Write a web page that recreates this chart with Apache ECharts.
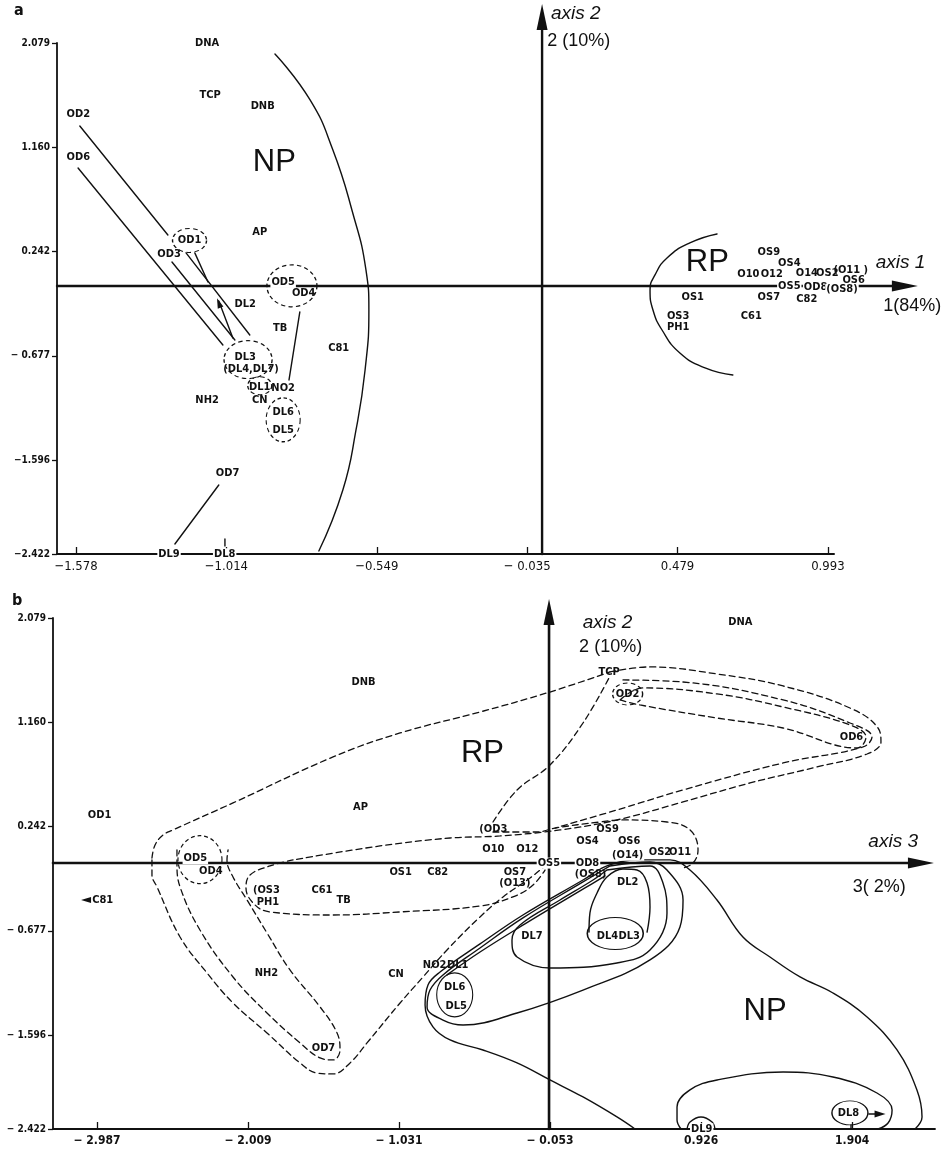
<!DOCTYPE html>
<html>
<head>
<meta charset="utf-8">
<script src="https://cdn.jsdelivr.net/npm/echarts@6/dist/echarts.min.js"></script>
<style>
  html, body { margin: 0; background: #fff; }
  #chart { width: 947px; height: 1155px; }
</style>
</head>
<body>
<div id="chart"></div>
<script>
// ---------- axes (tick positions and printed tick labels) ----------
var tickY = [2.079, 1.160, 0.242, -0.677, -1.596, -2.422];
var aTickYLabels = ['2.079', '1.160', '0.242', '\u2212 0.677', '\u22121.596', '\u22122.422'];
var bTickYLabels = ['2.079', '1.160', '0.242', '\u2212 0.677', '\u2212 1.596', '\u2212 2.422'];
var aTickX = [-1.578, -1.064, -0.550, -0.036, 0.478, 0.992];
var aTickXLabels = ['\u22121.578', '\u22121.014', '\u22120.549', '\u2212 0.035', '0.479', '0.993'];
var bTickX = [-2.987, -2.009, -1.031, -0.053, 0.926, 1.904];
var bTickXLabels = ['\u2212 2.987', '\u2212 2.009', '\u2212 1.031', '\u2212 0.053', '0.926', '1.904'];

// ---------- panel a : axis 1 x axis 2 ----------
var aLabels = [
  ['DNA', -1.13, 2.08], ['TCP', -1.12, 1.62], ['DNB', -0.94, 1.52], ['OD2', -1.57, 1.45],
  ['OD6', -1.57, 1.07], ['AP', -0.95, 0.41], ['OD1', -1.19, 0.34], ['OD3', -1.26, 0.22],
  ['OD5', -0.87, -0.03], ['OD4', -0.80, -0.12], ['DL2', -1.00, -0.22], ['TB', -0.88, -0.43],
  ['C81', -0.68, -0.61], ['DL3', -1.00, -0.69], ['(DL4,DL7)', -0.98, -0.79], ['DL1', -0.95, -0.95],
  ['NO2', -0.87, -0.96], ['CN', -0.95, -1.07], ['NH2', -1.13, -1.07], ['DL6', -0.87, -1.17],
  ['DL5', -0.87, -1.33], ['OD7', -1.06, -1.71], ['DL9', -1.26, -2.42], ['DL8', -1.07, -2.42],
  ['OS9', 0.79, 0.24], ['OS4', 0.86, 0.14], ['O10', 0.72, 0.04], ['O12', 0.80, 0.04],
  ['O14', 0.92, 0.05], ['OS2', 0.99, 0.05], ['(O11 )', 1.07, 0.08], ['OS6', 1.08, -0.01],
  ['OS5', 0.86, -0.06], ['OD8', 0.95, -0.07], ['(OS8)', 1.04, -0.09], ['OS1', 0.53, -0.16],
  ['OS7', 0.79, -0.16], ['C82', 0.92, -0.18], ['OS3', 0.48, -0.33], ['PH1', 0.48, -0.42],
  ['C61', 0.73, -0.33]
];
var aGroups = [['NP', -0.90, 1.03], ['RP', 0.58, 0.15]];
var aAxisNames = [['axis 1', 1.24, 0.14], ['axis 2', 0.13, 2.34]];
var aAxisShares = [['1(84%)', 1.28, -0.24], ['2 (10%)', 0.14, 2.10]];
var aRings = [[-1.19, 0.34], [-0.84, -0.06], [-0.99, -0.71], [-0.95, -0.94], [-0.87, -1.24]];
var aRingSize = [[34, 24], [50, 42], [48, 38], [24, 18], [34, 44]];

var aNPArc = [[-0.898, 1.982], [-0.778, 1.577], [-0.700, 1.137], [-0.635, 0.608], [-0.587, 0.080],
  [-0.577, -0.273], [-0.590, -0.801], [-0.621, -1.329], [-0.666, -1.858], [-0.748, -2.395]];
var aRPArc = [[0.613, 0.397], [0.520, 0.318], [0.442, 0.186], [0.401, 0.036], [0.384, -0.096],
  [0.394, -0.273], [0.425, -0.449], [0.486, -0.651], [0.572, -0.783], [0.667, -0.845]];
var aLinks = [
  [[-1.565, 1.348], [-1.264, 0.388]],
  [[-1.571, 0.978], [-1.076, -0.581]],
  [[-1.250, 0.150], [-1.035, -0.537]],
  [[-1.202, 0.230], [-0.984, -0.493]],
  [[-1.172, 0.230], [-1.127, -0.026]],
  [[-1.042, -0.519], [-1.090, -0.193]],
  [[-0.813, -0.290], [-0.850, -0.889]],
  [[-1.090, -1.814], [-1.240, -2.334]],
  [[-1.069, -2.290], [-1.069, -2.351]]
];
var aFrame = [
  [[-1.643, -2.422], [-1.643, 2.079]],
  [[-1.643, -2.422], [1.013, -2.422]]
];
var aAxes = [
  [[-1.643, -0.061], [1.255, -0.061]],
  [[0.015, -2.422], [0.015, 2.308]]
];
var aArrows = [[1.255, -0.061], [0.015, 2.308], [-1.090, -0.211]];
var aArrowTurn = [-90, 0, 21];

// ---------- panel b : axis 3 x axis 2 ----------
var bLabels = [
  ['DNB', -1.26, 1.51], ['OD1', -2.97, 0.34], ['AP', -1.28, 0.41], ['DNA', 1.18, 2.04],
  ['TCP', 0.33, 1.60], ['OD2', 0.45, 1.41], ['OD6', 1.90, 1.03], ['(OD3', -0.42, 0.22],
  ['OS9', 0.32, 0.22], ['O10', -0.42, 0.04], ['O12', -0.20, 0.04], ['OS4', 0.19, 0.11],
  ['OS6', 0.46, 0.11], ['(O14)', 0.45, -0.01], ['OS2', 0.66, 0.02], ['O11', 0.79, 0.02],
  ['OS5', -0.06, -0.08], ['OD8', 0.19, -0.08], ['(OS8)', 0.21, -0.18], ['OS7', -0.28, -0.16],
  ['(O13)', -0.28, -0.26], ['DL2', 0.45, -0.25], ['OD5', -2.35, -0.04], ['OD4', -2.25, -0.15],
  ['OS1', -1.02, -0.16], ['C82', -0.78, -0.16], ['(OS3', -1.89, -0.32], ['PH1', -1.88, -0.42],
  ['C61', -1.53, -0.32], ['TB', -1.39, -0.41], ['C81', -2.95, -0.41], ['NH2', -1.89, -1.05],
  ['CN', -1.05, -1.06], ['NO2', -0.80, -0.98], ['DL1', -0.65, -0.98], ['DL6', -0.67, -1.17],
  ['DL5', -0.66, -1.34], ['OD7', -1.52, -1.71], ['DL7', -0.17, -0.72], ['DL4', 0.32, -0.72],
  ['DL3', 0.46, -0.72], ['DL8', 1.88, -2.28], ['DL9', 0.93, -2.42]
];
var bGroups = [['NP', 1.34, -1.39], ['RP', -0.49, 0.89]];
var bAxisNames = [['axis 3', 2.17, 0.11], ['axis 2', 0.32, 2.04]];
var bAxisShares = [['3( 2%)', 2.08, -0.29], ['2 (10%)', 0.34, 1.82]];
var bDashRings = [[0.45, 1.41], [-2.32, -0.05]];
var bDashRingSize = [[30, 22], [44, 48]];
var bRings = [[-0.67, -1.24], [0.37, -0.70], [1.89, -2.28]];
var bRingSize = [[36, 44], [56, 32], [36, 24]];

// dashed outlines (RP groups)
var bRPTop = [[-2.631, -0.035], [-2.611, 0.080], [-2.559, 0.168], [-2.495, 0.212], [-2.106, 0.450],
  [-1.458, 0.855], [-1.024, 1.066], [-0.506, 1.251], [-0.053, 1.427], [0.336, 1.604]];
var bRPOuter = [[0.336, 1.604], [0.595, 1.648], [1.029, 1.586], [1.457, 1.480], [1.890, 1.286],
  [2.072, 1.110], [2.091, 0.987], [2.001, 0.881], [1.677, 0.767], [1.243, 0.626], [0.809, 0.459],
  [0.381, 0.300], [0.012, 0.212], [-0.377, 0.159], [-0.700, 0.141], [-1.154, 0.071], [-1.717, -0.052]];
var bRPMiddle = [[0.420, 1.533], [0.809, 1.515], [1.457, 1.357], [1.890, 1.154], [2.033, 1.031],
  [1.975, 0.943], [1.457, 0.802], [0.809, 0.564], [0.381, 0.388], [-0.020, 0.229]];
var bOD2OD6 = [[0.401, 1.357], [0.550, 1.463], [1.029, 1.410], [1.457, 1.295], [1.890, 1.137],
  [1.994, 1.031], [1.936, 0.934], [1.457, 1.110], [1.029, 1.198], [0.530, 1.313], [0.401, 1.357]];
var bOD3TCP = [[-0.422, 0.282], [-0.266, 0.564], [-0.053, 0.784], [0.161, 1.154], [0.336, 1.568]];
var bOS9Loop = [[-0.422, 0.194], [-0.137, 0.194], [-0.020, 0.229], [0.271, 0.282], [0.420, 0.300],
  [0.705, 0.282], [0.854, 0.212], [0.906, 0.036], [0.874, -0.079], [0.809, -0.123]];
var bOS3Loop = [[-1.717, -0.052], [-1.866, -0.105], [-1.996, -0.185], [-2.022, -0.299], [-1.963, -0.449],
  [-1.866, -0.510], [-1.458, -0.537], [-1.024, -0.510], [-0.506, -0.458], [-0.279, -0.370],
  [-0.163, -0.273], [-0.085, -0.141]];
var bOD7Outer = [[-2.631, -0.052], [-2.631, -0.185], [-2.598, -0.290], [-2.449, -0.731], [-2.274, -1.048],
  [-2.106, -1.312], [-1.886, -1.576], [-1.672, -1.840], [-1.562, -1.929], [-1.458, -1.937],
  [-1.348, -1.840], [-1.238, -1.664], [-1.024, -1.312], [-0.875, -1.083], [-0.720, -0.845],
  [-0.506, -0.554], [-0.357, -0.378], [-0.182, -0.211], [-0.085, -0.105]];
var bOD7Inner = [[-2.469, 0.036], [-2.469, -0.079], [-2.449, -0.290], [-2.320, -0.669], [-2.106, -1.083],
  [-1.886, -1.400], [-1.672, -1.664], [-1.542, -1.796], [-1.458, -1.814], [-1.413, -1.726],
  [-1.432, -1.576], [-1.542, -1.347], [-1.737, -1.021], [-1.886, -0.695], [-2.015, -0.405],
  [-2.106, -0.202], [-2.145, -0.052], [-2.138, 0.036]];

// solid outlines (NP groups)
var bDL2Loop = [[0.200, -0.687], [0.206, -0.519], [0.252, -0.343], [0.316, -0.202], [0.420, -0.132],
  [0.511, -0.141], [0.576, -0.255], [0.595, -0.466], [0.576, -0.687]];
var bDL7Loop = [[0.316, -0.141], [0.595, -0.105], [0.679, -0.255], [0.705, -0.519], [0.595, -0.845],
  [0.381, -0.960], [-0.053, -1.004], [-0.266, -0.907], [-0.299, -0.757], [-0.247, -0.625],
  [0.012, -0.405], [0.226, -0.229], [0.316, -0.141]];
var bDL1Loop = [[0.336, -0.105], [0.595, -0.070], [0.705, -0.141], [0.809, -0.405], [0.789, -0.643],
  [0.595, -0.933], [0.161, -1.198], [-0.266, -1.400], [-0.616, -1.506], [-0.746, -1.462],
  [-0.849, -1.347], [-0.830, -1.198], [-0.746, -1.065], [-0.506, -0.828], [-0.228, -0.563],
  [0.161, -0.246], [0.336, -0.105]];
var bDL1Stem = [[-0.720, -1.065], [-0.506, -0.863], [-0.215, -0.616], [0.174, -0.299], [0.304, -0.193]];
var bNPLoop = [[0.498, -2.422], [0.381, -2.316], [0.161, -2.140], [-0.053, -1.990], [-0.266, -1.840],
  [-0.487, -1.726], [-0.700, -1.638], [-0.811, -1.523], [-0.862, -1.330], [-0.843, -1.153],
  [-0.765, -1.039], [-0.506, -0.792], [-0.228, -0.537], [0.161, -0.229], [0.316, -0.105],
  [0.530, -0.052], [0.725, -0.052], [0.854, -0.141], [1.029, -0.405], [1.197, -0.731],
  [1.372, -0.907], [1.567, -1.083], [1.780, -1.224], [2.001, -1.435], [2.195, -1.726],
  [2.324, -2.078], [2.357, -2.316], [2.312, -2.422]];
var bDL8Loop = [[0.796, -2.422], [0.770, -2.343], [0.770, -2.228], [0.854, -2.078], [1.029, -1.990],
  [1.457, -1.920], [1.780, -1.964], [2.065, -2.105], [2.163, -2.254], [2.137, -2.369], [2.072, -2.422]];
var bDL9Arc = [[0.835, -2.422], [0.854, -2.360], [0.925, -2.316], [0.997, -2.360], [1.016, -2.422]];
var bLinks = [
  [[1.897, -2.386], [1.897, -2.422]],
  [[2.013, -2.290], [2.085, -2.290]]
];
var bFrame = [
  [[-3.272, -2.422], [-3.272, 2.079]],
  [[-3.272, -2.422], [2.441, -2.422]]
];
var bAxes = [
  [[-3.272, -0.079], [2.350, -0.079]],
  [[-0.059, -2.422], [-0.059, 2.132]]
];
var bArrows = [[2.350, -0.079], [-0.059, 2.132], [2.085, -2.290], [-3.058, -0.406]];
var bArrowTurn = [-90, 0, -90, 90];

// ---------- drawing helpers ----------
var FONT = '"DejaVu Sans Condensed", "DejaVu Sans", sans-serif';
var INK = '#111';

function line(g, pts, opt) {
  opt = opt || {};
  return {
    type: 'line', xAxisIndex: g, yAxisIndex: g, data: pts,
    symbol: 'none', smooth: opt.smooth || 0, clip: false, silent: true, animation: false,
    lineStyle: { color: INK, width: opt.width || 1.4, type: opt.dash ? [6, 4] : 'solid', cap: 'round' },
    z: 3
  };
}

function texts(g, list, style, bg) {
  return {
    type: 'scatter', xAxisIndex: g, yAxisIndex: g, symbolSize: 0, clip: false, silent: true,
    animation: false, z: 6,
    itemStyle: { opacity: 1 },
    data: list.map(function (d) {
      var item = { name: d[0], value: [d[1], d[2]] };
      if (bg && bg.indexOf(d[0]) >= 0) item.label = { backgroundColor: '#fff', padding: [0, 1] };
      return item;
    }),
    label: Object.assign({ show: true, position: 'inside', formatter: '{b}', color: INK,
      fontFamily: FONT, fontSize: 11, fontWeight: 'bold' }, style)
  };
}

function rings(g, centres, sizes, dashed) {
  return {
    type: 'scatter', xAxisIndex: g, yAxisIndex: g, clip: false, silent: true, animation: false, z: 4,
    symbol: 'circle',
    data: centres.map(function (c, i) { return { value: c, symbolSize: sizes[i] }; }),
    itemStyle: { color: 'rgba(0,0,0,0)', opacity: 1, borderColor: INK, borderWidth: 1.2,
      borderType: dashed ? [4, 3] : 'solid' }
  };
}

function arrows(g, pts, turns, sizes) {
  return {
    type: 'scatter', xAxisIndex: g, yAxisIndex: g, clip: false, silent: true, animation: false, z: 5,
    symbol: 'triangle',
    data: pts.map(function (p, i) { return { value: p, symbolRotate: turns[i], symbolSize: sizes[i] }; }),
    itemStyle: { color: INK, opacity: 1 }
  };
}

function labelOf(ticks, names) {
  return function (v) {
    var best = 0;
    for (var i = 1; i < ticks.length; i++) {
      if (Math.abs(ticks[i] - v) < Math.abs(ticks[best] - v)) best = i;
    }
    return names[best];
  };
}

function xAxis(g, min, max, ticks, names, size) {
  return {
    type: 'value', gridIndex: g, min: min, max: max,
    axisLine: { show: false, onZero: false }, splitLine: { show: false },
    axisTick: { show: true, inside: true, length: 7, customValues: ticks, lineStyle: { color: INK, width: 1.3 } },
    axisLabel: { customValues: ticks, formatter: labelOf(ticks, names), margin: 6, color: INK,
      fontFamily: FONT, fontSize: size, fontWeight: g ? 'bold' : 'normal' }
  };
}

function yAxis(g, min, max, names) {
  return {
    type: 'value', gridIndex: g, min: min, max: max,
    axisLine: { show: false, onZero: false }, splitLine: { show: false },
    axisTick: { show: true, length: 5, customValues: tickY, lineStyle: { color: INK, width: 1.3 } },
    axisLabel: { customValues: tickY, formatter: labelOf(tickY, names), margin: 7, color: INK,
      fontFamily: FONT, fontSize: 10, fontWeight: 'bold' }
  };
}

// ---------- options ----------
var series = [];
aFrame.forEach(function (s) { series.push(line(0, s, { width: 1.8 })); });
aAxes.forEach(function (s) { series.push(line(0, s, { width: 2.4 })); });
bFrame.forEach(function (s) { series.push(line(1, s, { width: 1.8 })); });
bAxes.forEach(function (s) { series.push(line(1, s, { width: 2.6 })); });

series.push(line(0, aNPArc, { smooth: 0.5 }));
series.push(line(0, aRPArc, { smooth: 0.5 }));
aLinks.forEach(function (s) { series.push(line(0, s)); });
series.push(rings(0, aRings, aRingSize, true));
series.push(arrows(0, aArrows, aArrowTurn, [[11, 26], [11, 26], [6, 10]]));

[bRPTop, bRPOuter, bRPMiddle, bOD2OD6, bOD3TCP, bOS9Loop, bOS3Loop, bOD7Outer, bOD7Inner]
  .forEach(function (s) { series.push(line(1, s, { dash: true, smooth: 0.4, width: 1.3 })); });
[bDL2Loop, bDL7Loop, bDL1Loop, bDL1Stem, bNPLoop, bDL8Loop, bDL9Arc]
  .forEach(function (s) { series.push(line(1, s, { smooth: 0.4 })); });
bLinks.forEach(function (s) { series.push(line(1, s)); });
series.push(rings(1, bDashRings, bDashRingSize, true));
series.push(rings(1, bRings, bRingSize, false));
series.push(arrows(1, bArrows, bArrowTurn, [[11, 26], [11, 26], [7, 11], [6, 10]]));

var bigStyle = { fontFamily: '"Liberation Sans", Arial, sans-serif', fontSize: 31, fontWeight: 'normal' };
var nameStyle = { fontFamily: '"Liberation Sans", Arial, sans-serif', fontSize: 19, fontWeight: 'normal', fontStyle: 'italic' };
var shareStyle = { fontFamily: '"Liberation Sans", Arial, sans-serif', fontSize: 18, fontWeight: 'normal' };

series.push(texts(0, aLabels, {}, ['DL9', 'DL8', 'OS5', 'OD8', '(OS8)', 'OD5']));
series.push(texts(0, aGroups, bigStyle));
series.push(texts(0, aAxisNames, nameStyle));
series.push(texts(0, aAxisShares, shareStyle));
series.push(texts(1, bLabels, {}, ['DL9', 'OS5', 'OD8', 'OD5', '(O14)']));
series.push(texts(1, bGroups, bigStyle));
series.push(texts(1, bAxisNames, nameStyle));
series.push(texts(1, bAxisShares, shareStyle));

var option = {
  animation: false,
  backgroundColor: '#fff',
  title: [
    { text: 'a', left: 9, top: -2, textStyle: { fontFamily: FONT, fontSize: 16, fontWeight: 'bold', color: INK } },
    { text: 'b', left: 7, top: 588, textStyle: { fontFamily: FONT, fontSize: 16, fontWeight: 'bold', color: INK } }
  ],
  grid: [
    { left: 57, right: 12, top: 2, bottom: 601 },
    { left: 53, right: 12, top: 598, bottom: 26 }
  ],
  xAxis: [
    xAxis(0, -1.643, 1.358, aTickX, aTickXLabels, 13),
    xAxis(1, -3.272, 2.441, bTickX, bTickXLabels, 12)
  ],
  yAxis: [
    yAxis(0, -2.422, 2.440, aTickYLabels),
    yAxis(1, -2.422, 2.255, bTickYLabels)
  ],
  series: series
};

var chart = echarts.init(document.getElementById('chart'), null, { renderer: 'canvas' });
chart.setOption(option);
</script>
</body>
</html>
